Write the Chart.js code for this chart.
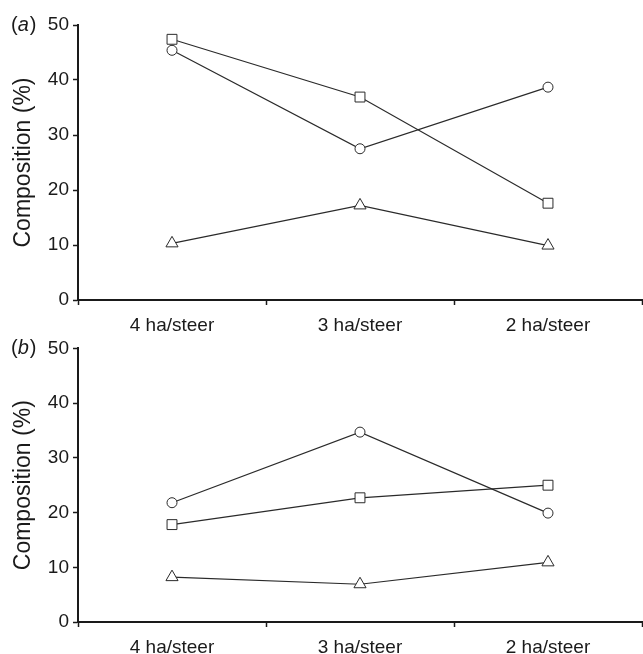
<!DOCTYPE html>
<html>
<head>
<meta charset="utf-8">
<script src="https://cdn.jsdelivr.net/npm/chart.js@4"></script>
<style>
  body { margin: 0; background: #fff; overflow: hidden; }
  canvas { position: absolute; left: 0; }
  #chartA { top: 0; }
  #chartB { top: 333px; }
</style>
</head>
<body>
<canvas id="chartA" width="650" height="338"></canvas>
<canvas id="chartB" width="650" height="321"></canvas>
<script>
// categories (stocking rate)
const categories = ['4 ha/steer', '3 ha/steer', '2 ha/steer'];

// panel (a) composition values
const aCircle = [45.4, 27.5, 38.7];
const aSquare = [47.4, 36.9, 17.6];
const aTriangle = [10.3, 17.2, 9.9];

// panel (b) composition values
const bCircle = [21.8, 34.7, 19.9];
const bSquare = [17.8, 22.7, 25.0];
const bTriangle = [8.2, 6.9, 10.9];

const yTicks = [0, 10, 20, 30, 40, 50];

const FONT = '"Liberation Sans", Arial, sans-serif';
const INK = '#1a1a1a';

// draws the "(a)" / "(b)" panel tag next to the top tick
const panelLetter = {
    id: 'panelLetter',
    afterDraw(chart, args, opts) {
        const ctx = chart.ctx;
        const y = chart.scales.y.getPixelForValue(50);
        let x = 11;
        ctx.save();
        ctx.fillStyle = INK;
        ctx.textBaseline = 'middle';
        ctx.font = '20px ' + FONT;
        ctx.fillText('(', x, y);
        x += ctx.measureText('(').width;
        ctx.font = 'italic 20px ' + FONT;
        ctx.fillText(opts.letter, x, y);
        x += ctx.measureText(opts.letter).width + 1;
        ctx.font = '20px ' + FONT;
        ctx.fillText(')', x, y);
        ctx.restore();
    }
};

function series(data, style, radius) {
    return {
        data: data,
        borderColor: '#2a2a2a',
        borderWidth: 1.2,
        pointStyle: style,
        pointRadius: radius,
        pointHoverRadius: radius,
        pointBorderColor: '#2a2a2a',
        pointBorderWidth: 1,
        pointBackgroundColor: '#fff',
        tension: 0,
        clip: false
    };
}

function makeChart(id, letter, circle, square, triangle, topPad, xHeight) {
    return new Chart(document.getElementById(id), {
        type: 'line',
        data: {
            labels: categories,
            datasets: [
                series(circle, 'circle', 5),
                series(square, 'rect', 7),
                series(triangle, 'triangle', 7)
            ]
        },
        plugins: [panelLetter],
        options: {
            responsive: false,
            animation: false,
            layout: { padding: { top: topPad, right: 1, left: 0, bottom: 0 } },
            plugins: {
                legend: { display: false },
                tooltip: { enabled: false },
                panelLetter: { letter: letter }
            },
            scales: {
                x: {
                    offset: true,
                    grid: {
                        offset: true,
                        drawOnChartArea: false,
                        drawTicks: true,
                        tickLength: 5,
                        tickWidth: 1.5,
                        tickColor: INK
                    },
                    border: { display: true, color: INK, width: 2 },
                    ticks: {
                        color: INK,
                        padding: 9,
                        maxRotation: 0,
                        font: { family: FONT, size: 19 }
                    },
                    afterFit(scale) { scale.height = xHeight; }
                },
                y: {
                    min: 0,
                    max: 50,
                    afterBuildTicks(scale) {
                        scale.ticks = yTicks.map(v => ({ value: v }));
                    },
                    grid: {
                        drawOnChartArea: false,
                        tickLength: 5,
                        tickWidth: 1.5,
                        tickColor: INK
                    },
                    border: { display: true, color: INK, width: 2 },
                    ticks: {
                        color: INK,
                        padding: 4,
                        font: { family: FONT, size: 19 }
                    },
                    title: {
                        display: true,
                        text: 'Composition (%)',
                        color: INK,
                        font: { family: FONT, size: 23 },
                        padding: { top: 10, bottom: 0 }
                    },
                    afterFit(scale) { scale.width = 78; }
                }
            }
        }
    });
}

makeChart('chartA', 'a', aCircle, aSquare, aTriangle, 25, 38);
makeChart('chartB', 'b', bCircle, bSquare, bTriangle, 14, 32);
</script>
</body>
</html>
